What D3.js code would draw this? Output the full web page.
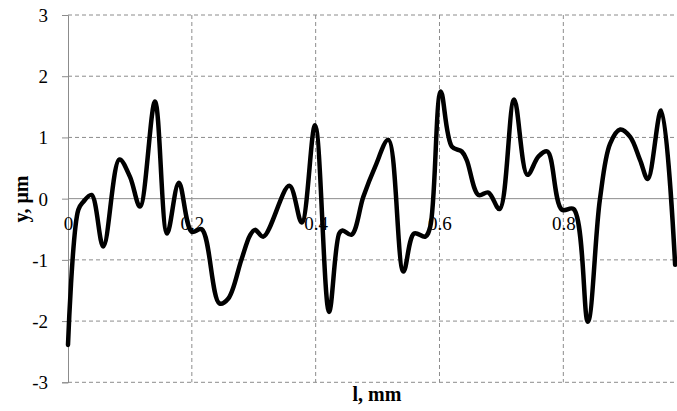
<!DOCTYPE html>
<html><head><meta charset="utf-8">
<script src="https://cdn.jsdelivr.net/npm/d3@7"></script>
<style>html,body{margin:0;padding:0;background:#fff;}svg{display:block;}</style>
</head><body>
<script>
const lValues = [0,0.0167,0.0248,0.038,0.057,0.083,0.100,0.1163,0.1405,0.160,0.179,0.1998,0.216,0.2445,0.259,0.280,0.294,0.302,0.3156,0.3575,0.3775,0.399,0.4216,0.438,0.4436,0.458,0.477,0.496,0.5175,0.5417,0.559,0.577,0.585,0.602,0.62,0.636,0.644,0.663,0.679,0.697,0.7205,0.742,0.760,0.7743,0.7975,0.8166,0.8396,0.859,0.8756,0.892,0.908,0.924,0.9365,0.958,0.9806];
const yValues = [-2.39,-0.18,-0.05,0.06,-0.78,0.64,0.36,-0.13,1.585,-0.57,0.26,-0.54,-0.50,-1.71,-1.63,-1.0,-0.60,-0.51,-0.62,0.21,-0.39,1.20,-1.85,-0.57,-0.52,-0.59,0.03,0.52,0.96,-1.19,-0.57,-0.62,-0.46,1.75,0.85,0.77,0.63,0.06,0.10,-0.17,1.62,0.39,0.69,0.77,-0.18,-0.17,-2.01,-0.02,0.90,1.13,1.01,0.63,0.32,1.44,-1.08];
const xTicks = [0,0.2,0.4,0.6,0.8];
const yTicks = [-3,-2,-1,0,1,2,3];
const xTitle = "l, mm";
const yTitle = "y, μm";

const W = 677, H = 411;
const svg = d3.select("body").append("svg").attr("width", W).attr("height", H);
const x = d3.scaleLinear().domain([0, 0.982]).range([68, 676]);
const y = d3.scaleLinear().domain([-3, 3]).range([382.3, 15]);
const font = "'Liberation Serif','Times New Roman',serif";
const grid = "#8c8c8c";

// horizontal gridlines
svg.append("g").selectAll("line").data(yTicks.filter(d => d !== 0)).join("line")
  .attr("x1", 68).attr("x2", W).attr("y1", d => y(d)).attr("y2", d => y(d))
  .attr("stroke", grid).attr("stroke-width", 1).attr("stroke-dasharray", "4,3");
// vertical gridlines
svg.append("g").selectAll("line").data(xTicks.filter(d => d !== 0)).join("line")
  .attr("x1", d => x(d)).attr("x2", d => x(d)).attr("y1", 15).attr("y2", 382.3)
  .attr("stroke", grid).attr("stroke-width", 1).attr("stroke-dasharray", "4,3");

// y axis
const yAxis = d3.axisLeft(y).tickValues(yTicks).tickSize(6).tickFormat(d3.format("d"));
const gy = svg.append("g").attr("transform", "translate(68,0)").call(yAxis);
gy.select(".domain").attr("stroke", grid);
gy.selectAll(".tick line").attr("stroke", grid);
gy.selectAll(".tick text").attr("font-family", font).attr("font-size", 19).attr("fill", "#000")
  .attr("x", -20).attr("dy", "0.34em").text(d => d < 0 ? "-" + Math.abs(d) : d);

// x axis at y=0
const xAxis = d3.axisBottom(x).tickValues(xTicks).tickSize(0).tickFormat(d => d === 0 ? "0" : d3.format(".1f")(d));
const gx = svg.append("g").attr("transform", `translate(0,${y(0)})`).call(xAxis);
gx.select(".domain").attr("stroke", grid).attr("d", `M68,0H${W}`);
gx.selectAll(".tick text").attr("font-family", font).attr("font-size", 19).attr("fill", "#000")
  .attr("y", 31).attr("dy", 0);

// line
const line = d3.line().x((d, i) => x(lValues[i])).y(d => y(d)).curve(d3.curveCatmullRom.alpha(0.5));
svg.append("path").datum(yValues).attr("d", line).attr("fill", "none")
  .attr("stroke", "#000").attr("stroke-width", 4.5).attr("stroke-linejoin", "round").attr("stroke-linecap", "round");

// titles
svg.append("text").attr("x", 377).attr("y", 401).attr("text-anchor", "middle")
  .attr("font-family", font).attr("font-size", 20).attr("font-weight", "bold").text(xTitle);
svg.append("text").attr("transform", "translate(28,199) rotate(-90)").attr("text-anchor", "middle")
  .attr("font-family", font).attr("font-size", 20).attr("font-weight", "bold").text(yTitle);
</script>
</body></html>
